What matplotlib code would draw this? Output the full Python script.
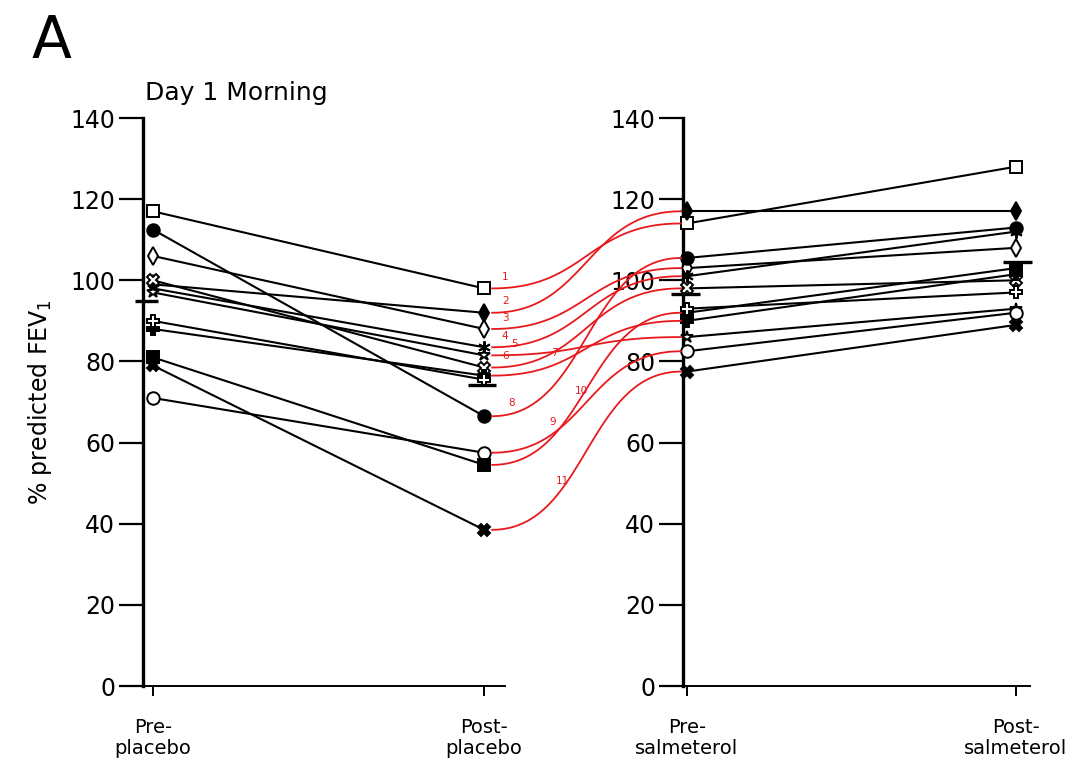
import numpy as np
import matplotlib
matplotlib.use("Agg")
import matplotlib.pyplot as plt

# values, one entry per subject
pre_placebo = [117, 99, 106, 98, 97, 100, 88, 112.5, 71, 81, 79, 90]
post_placebo = [98, 92, 88, 83.5, 81.5, 78.5, 76.5, 66.5, 57.5, 54.5, 38.5, 75.5]
pre_salmeterol = [114, 117, 103, 101, 86, 98, 90, 105.5, 82.5, 92, 77.5, 93]
post_salmeterol = [128, 117, 108, 112, 93, 100, 101.5, 113, 92, 103, 89, 97]

markers = ['s', 'd', 'd', (6, 2, 0), '*', 'X', 'P', 'o', 'o', 's', 'X', 'P']
filled = [False, True, False, True, False, False, True, True, False, True, True, False]

left_labels = ['Pre-\nplacebo', 'Post-\nplacebo']
right_labels = ['Pre-\nsalmeterol', 'Post-\nsalmeterol']
yticks = [0, 20, 40, 60, 80, 100, 120, 140]

# red links: post-placebo point (subject) -> pre-salmeterol point, numbered 1..11
link_subjects = [0, 1, 2, 3, 4, 5, 6, 7, 8, 9, 10]
link_label_t = [0.06, 0.06, 0.06, 0.06, 0.10, 0.06, 0.30, 0.08, 0.28, 0.45, 0.32]

W, H = 1076, 767
fig = plt.figure(figsize=(W / 100, H / 100), dpi=100)
fig.patch.set_facecolor('white')

ax1 = fig.add_axes([143 / W, 1 - 686 / H, (505 - 143) / W, (686 - 118) / H])
ax2 = fig.add_axes([683 / W, 1 - 686 / H, (1030 - 683) / W, (686 - 118) / H])


def style_axis(ax, labels, xlim):
    ax.set_xlim(*xlim)
    ax.set_ylim(0, 140)
    ax.set_xticks([0, 1])
    ax.set_xticklabels(labels, fontsize=14, linespacing=1.15)
    ax.set_yticks(yticks)
    ax.set_yticklabels([str(v) for v in yticks], fontsize=17)
    ax.spines['top'].set_visible(False)
    ax.spines['right'].set_visible(False)
    ax.spines['left'].set_linewidth(2.4)
    ax.spines['bottom'].set_linewidth(1.4)
    ax.tick_params(axis='y', direction='out', length=17, width=1.6, pad=3)
    ax.tick_params(axis='x', direction='out', length=7, width=1.4, pad=16)
    ax.patch.set_alpha(0)


def draw_pairs(ax, a, b):
    for i in range(len(a)):
        ax.plot([0, 1], [a[i], b[i]], color='black', lw=1.5, zorder=2)
        fc = 'black' if filled[i] else 'white'
        ax.plot([0, 1], [a[i], b[i]], ls='none', marker=markers[i], ms=9,
                mfc=fc, mec='black', mew=1.4, zorder=3, clip_on=False)


draw_pairs(ax1, pre_placebo, post_placebo)
draw_pairs(ax2, pre_salmeterol, post_salmeterol)

# mean bars
ax1.hlines(np.mean(pre_placebo), -0.055, 0.015, color='black', lw=2.4, clip_on=False, zorder=4)
ax1.hlines(np.mean(post_placebo), 0.95, 1.035, color='black', lw=2.4, clip_on=False, zorder=4)
ax2.hlines(np.mean(pre_salmeterol), -0.05, 0.04, color='black', lw=2.4, clip_on=False, zorder=4)
ax2.hlines(np.mean(post_salmeterol), 0.96, 1.05, color='black', lw=2.4, clip_on=False, zorder=4)

style_axis(ax1, left_labels, (-0.030, 1.063))
style_axis(ax2, right_labels, (-0.012, 1.043))

ax1.set_ylabel('% predicted FEV$_1$', fontsize=17, labelpad=12)

fig.text(145 / W, 1 - 93 / H, 'Day 1 Morning', fontsize=18, va='center', ha='left')
fig.text(32 / W, 1 - 42 / H, 'A', fontsize=42, va='center', ha='left')

# red connecting curves between the panels
to_fig = fig.transFigure.inverted()
for n, (s, tl) in enumerate(zip(link_subjects, link_label_t)):
    p0 = ax1.transData.transform((1, post_placebo[s])) + np.array([8, 0])
    p3 = ax2.transData.transform((0, pre_salmeterol[s])) - np.array([6, 0])
    dx = p3[0] - p0[0]
    c1 = p0 + np.array([dx * 0.5, 0])
    c2 = p3 - np.array([dx * 0.5, 0])
    t = np.linspace(0, 1, 80)[:, None]
    pts = ((1 - t) ** 3) * p0 + 3 * ((1 - t) ** 2) * t * c1 + 3 * (1 - t) * t ** 2 * c2 + t ** 3 * p3
    fpts = to_fig.transform(pts)
    fig.add_artist(plt.Line2D(fpts[:, 0], fpts[:, 1], color='#e8191c', lw=1.3,
                              transform=fig.transFigure, zorder=5))
    k = int(tl * 79)
    lx, ly = to_fig.transform(pts[k] + np.array([-4, 6]))
    fig.text(lx, ly, str(n + 1), color='#e8191c', fontsize=7.5, ha='left', va='bottom')

fig.savefig('out.png', dpi=100)
